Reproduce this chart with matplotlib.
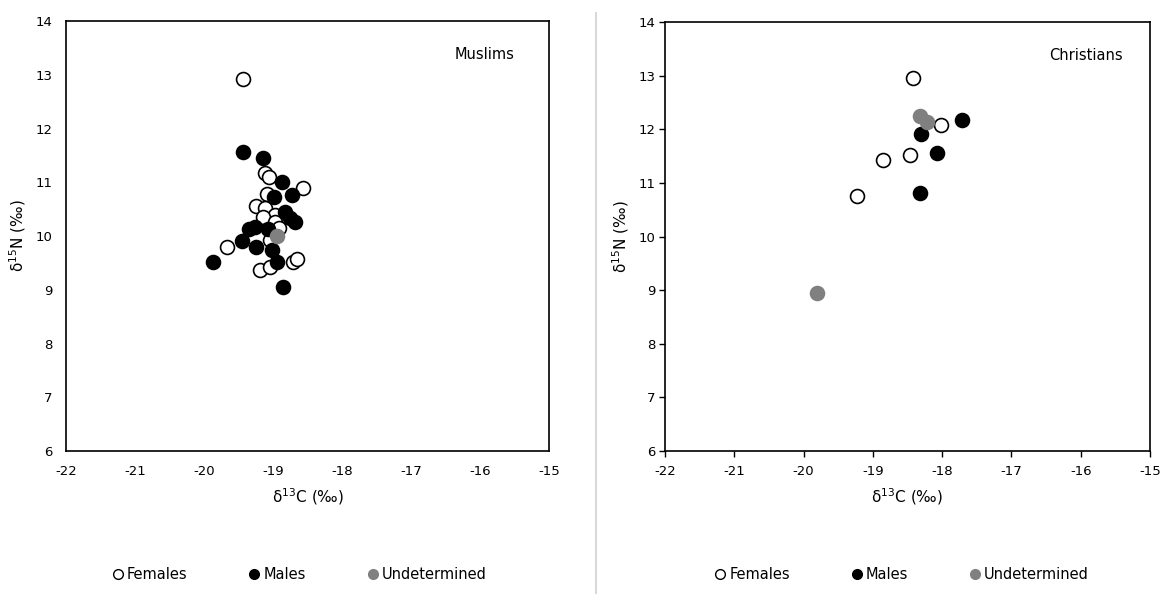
import matplotlib.pyplot as plt
from matplotlib.lines import Line2D

# Muslims: d13C / d15N per group
mus_fem_c = [-19.43, -19.12, -19.06, -18.56, -19.09, -19.24, -19.12, -18.97, -19.14,
             -18.97, -18.92, -19.67, -19.04, -19.19, -19.04, -18.71, -18.66]
mus_fem_n = [12.92, 11.17, 11.10, 10.89, 10.79, 10.55, 10.52, 10.39, 10.36,
             10.27, 10.15, 9.80, 9.93, 9.37, 9.43, 9.52, 9.58]
mus_male_c = [-19.43, -19.14, -18.87, -18.73, -18.99, -18.83, -18.75, -18.68, -19.26,
              -19.35, -19.07, -19.45, -19.87, -19.24, -19.02, -18.95, -18.86]
mus_male_n = [11.56, 11.45, 11.01, 10.76, 10.73, 10.45, 10.33, 10.27, 10.17,
              10.14, 10.14, 9.90, 9.52, 9.80, 9.74, 9.52, 9.05]
mus_und_c = [-18.95]
mus_und_n = [10.00]

# Christians
chr_fem_c = [-18.42, -18.01, -18.85, -18.46, -19.23]
chr_fem_n = [12.95, 12.08, 11.43, 11.52, 10.75]
chr_male_c = [-18.30, -17.72, -18.08, -18.32]
chr_male_n = [11.92, 12.17, 11.55, 10.82]
chr_und_c = [-18.32, -18.22, -19.81]
chr_und_n = [12.25, 12.13, 8.95]

xticks = [-22, -21, -20, -19, -18, -17, -16, -15]
yticks = [6, 7, 8, 9, 10, 11, 12, 13, 14]

plt.rcParams['font.family'] = ['DejaVu Sans']
plt.rcParams['mathtext.fontset'] = 'dejavusans'

fig = plt.figure(figsize=(11.63, 5.94), dpi=100)
ax1 = fig.add_axes([0.0568, 0.2407, 0.4153, 0.7239])
ax2 = fig.add_axes([0.5718, 0.2407, 0.4170, 0.7222])

ms = 10
mew = 1.2


def draw(ax, fc, fn, mc, mn, uc, un, name, ticks):
    ax.plot(fc, fn, 'o', ms=ms, mfc='white', mec='black', mew=mew, ls='none')
    ax.plot(mc, mn, 'o', ms=ms, mfc='black', mec='black', mew=mew, ls='none')
    ax.plot(uc, un, 'o', ms=ms, mfc='#808080', mec='#808080', mew=mew, ls='none')
    ax.set_xlim(-22, -15)
    ax.set_ylim(6, 14)
    ax.set_xticks(xticks)
    ax.set_yticks(yticks)
    ax.set_xticklabels([str(v) for v in xticks])
    if ticks:
        ax.tick_params(labelsize=9.5, length=4, width=1)
        ax.tick_params(axis='x', pad=6)
        ax.tick_params(axis='y', pad=3)
    else:
        ax.tick_params(labelsize=9.5, length=0)
        ax.tick_params(axis='x', pad=10)
        ax.tick_params(axis='y', pad=10)
    for s in ax.spines.values():
        s.set_linewidth(1.2)
    ax.set_xlabel(r'δ$^{13}$C (‰)', fontsize=11, labelpad=6)
    ax.set_ylabel(r'δ$^{15}$N (‰)', fontsize=11, labelpad=5)
    ax.text(0.867, 0.922, name, transform=ax.transAxes, ha='center', va='center', fontsize=10.5)


draw(ax1, mus_fem_c, mus_fem_n, mus_male_c, mus_male_n, mus_und_c, mus_und_n, 'Muslims', False)
draw(ax2, chr_fem_c, chr_fem_n, chr_male_c, chr_male_n, chr_und_c, chr_und_n, 'Christians', True)

handles = [
    Line2D([], [], marker='o', ls='none', ms=7, mfc='white', mec='black', mew=1),
    Line2D([], [], marker='o', ls='none', ms=7, mfc='black', mec='black'),
    Line2D([], [], marker='o', ls='none', ms=7, mfc='#808080', mec='#808080'),
]
labels = ['Females', 'Males', 'Undetermined']
for cx in (0.256, 0.774):
    fig.legend(handles, labels, loc='center', bbox_to_anchor=(cx, 0.032), ncol=3,
               frameon=False, fontsize=10.5, handletextpad=0.0, columnspacing=4.0,
               handlelength=1.2)

# divider between the two panels
fig.add_artist(Line2D([596 / 1163, 596 / 1163], [0, 1 - 13 / 594], color='#d9d9d9', lw=1.5))

fig.savefig('out.png', dpi=100)
